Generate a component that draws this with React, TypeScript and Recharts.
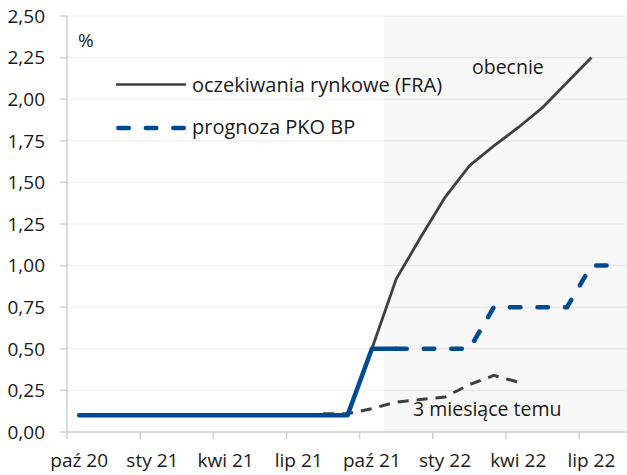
import React from 'react';
import {
  LineChart,
  Line,
  XAxis,
  YAxis,
  CartesianGrid,
  ReferenceArea,
} from 'recharts';

// Monthly points, Oct 2020 – Aug 2022
const months = [
  'paź 20', 'lis 20', 'gru 20', 'sty 21', 'lut 21', 'mar 21', 'kwi 21', 'maj 21',
  'cze 21', 'lip 21', 'sie 21', 'wrz 21', 'paź 21', 'lis 21', 'gru 21', 'sty 22',
  'lut 22', 'mar 22', 'kwi 22', 'maj 22', 'cze 22', 'lip 22', 'sie 22',
];

// Quarter boundaries (month index) and their labels
const quarterTicks = [0, 3, 6, 9, 12, 15, 18, 21];
const quarterLabels = ['paź 20', 'sty 21', 'kwi 21', 'lip 21', 'paź 21', 'sty 22', 'kwi 22', 'lip 22'];

const yTicks = [0, 0.25, 0.5, 0.75, 1, 1.25, 1.5, 1.75, 2, 2.25, 2.5];

// NBP reference rate – realised
const rateActual = [
  0.1, 0.1, 0.1, 0.1, 0.1, 0.1, 0.1, 0.1, 0.1, 0.1, 0.1, 0.1,
  0.5, 0.5,
  null, null, null, null, null, null, null, null, null,
];

// PKO BP forecast
const rateForecast = [
  null, null, null, null, null, null, null, null, null, null, null, null, null,
  0.5, 0.5, 0.5, 0.5, 0.75, 0.75, 0.75, 0.75, 1.0, 1.0,
];

// Market expectations (FRA) – current
const fraNow = [
  null, null, null, null, null, null, null, null, null, null, null, null,
  0.5, 0.92, 1.17, 1.41, 1.6, 1.72, 1.83, 1.95, 2.1, 2.25,
  null,
];

// Market expectations (FRA) – three months earlier
const fra3mAgo = [
  null, null, null, null, null, null, null, null, null, null,
  0.11, 0.11, 0.14, 0.18, 0.195, 0.21, 0.285, 0.34, 0.3,
  null, null, null, null,
];

// Forecast period starts with November 2021
const forecastStart = 13;

const data = months.map((m, i) => ({
  x: i + 0.5,
  month: m,
  actual: rateActual[i],
  forecast: rateForecast[i],
  fraNow: fraNow[i],
  fra3m: fra3mAgo[i],
}));

const CHART_W = 628;
const CHART_H = 475;
const Y_AXIS_W = 67;
const MONTH_PX = (CHART_W - Y_AXIS_W) / months.length;

const FONT = '"Open Sans", sans-serif';
const TEXT = '#1a1a1a';
const AXIS = '#d0d0d0';
const GRAY = '#3f3f3f';
const BLUE = '#004a94';

const fmt = (v: number) => v.toFixed(2).replace('.', ',');

function MonthTick(props: any) {
  const { x, y, payload } = props;
  const idx = quarterTicks.indexOf(payload.value);
  return (
    <text
      x={x + MONTH_PX / 2}
      y={y}
      dy="0.71em"
      textAnchor="middle"
      fontFamily={FONT}
      fontSize={19}
      fill={TEXT}
    >
      {quarterLabels[idx]}
    </text>
  );
}

// Legend, unit and series captions drawn on a layer above the plot
function Annotations() {
  const t = { fontFamily: FONT, fill: TEXT };
  return (
    <svg
      width={627}
      height={475}
      style={{ position: 'absolute', left: 0, top: 0, pointerEvents: 'none' }}
    >
      <text x={78} y={46.5} fontSize={19} {...t}>%</text>
      <line x1={116} x2={186} y1={84.5} y2={84.5} stroke={GRAY} strokeWidth={2.5} />
      <text x={192} y={92} fontSize={20} {...t}>oczekiwania rynkowe (FRA)</text>
      <line
        x1={118.3}
        x2={184}
        y1={128}
        y2={128}
        stroke={BLUE}
        strokeWidth={4.5}
        strokeLinecap="round"
        strokeDasharray="10.5 17"
      />
      <text x={192} y={133.5} fontSize={20} {...t}>prognoza PKO BP</text>
      <text x={472} y={73.5} fontSize={19.5} {...t}>obecnie</text>
      <text x={413} y={415.5} fontSize={19.5} {...t}>3 miesiące temu</text>
    </svg>
  );
}

export default function App() {
  return (
    <div style={{ position: 'absolute', left: 0, top: 0, width: 627, height: 475, overflow: 'hidden', background: '#fff' }}>
      <LineChart
        width={CHART_W}
        height={CHART_H}
        data={data}
        margin={{ top: 16, right: 0, bottom: 0, left: 0 }}
      >
        <CartesianGrid horizontal vertical={false} stroke="#ececec" />
        <ReferenceArea
          x1={forecastStart}
          x2={months.length}
          y1={0}
          y2={2.5}
          fill="#000"
          fillOpacity={0.03}
          stroke="none"
        />
        <XAxis
          dataKey="x"
          type="number"
          domain={[0, months.length]}
          ticks={quarterTicks}
          interval={0}
          height={43}
          tickSize={7}
          tickMargin={14.5}
          tick={<MonthTick />}
          axisLine={{ stroke: AXIS, strokeWidth: 1.5 }}
          tickLine={{ stroke: AXIS, strokeWidth: 1.5 }}
        />
        <YAxis
          type="number"
          domain={[0, 2.5]}
          ticks={yTicks}
          interval={0}
          width={Y_AXIS_W}
          tickSize={7}
          tickMargin={15}
          tickFormatter={fmt}
          tick={{ fontFamily: FONT, fontSize: 19, fill: TEXT }}
          axisLine={{ stroke: AXIS, strokeWidth: 1.5 }}
          tickLine={{ stroke: AXIS, strokeWidth: 1.5 }}
        />
        <Line
          dataKey="fra3m"
          type="linear"
          stroke={GRAY}
          strokeWidth={3}
          strokeDasharray="11 8"
          dot={false}
          activeDot={false}
          isAnimationActive={false}
        />
        <Line
          dataKey="fraNow"
          type="linear"
          stroke={GRAY}
          strokeWidth={2.8}
          dot={false}
          activeDot={false}
          isAnimationActive={false}
        />
        <Line
          dataKey="forecast"
          type="linear"
          stroke={BLUE}
          strokeWidth={4.5}
          strokeLinecap="round"
          strokeDasharray="10.5 17"
          dot={false}
          activeDot={false}
          isAnimationActive={false}
        />
        <Line
          dataKey="actual"
          type="linear"
          stroke={BLUE}
          strokeWidth={4.5}
          strokeLinecap="round"
          strokeLinejoin="round"
          dot={false}
          activeDot={false}
          isAnimationActive={false}
        />
      </LineChart>
      <Annotations />
    </div>
  );
}
